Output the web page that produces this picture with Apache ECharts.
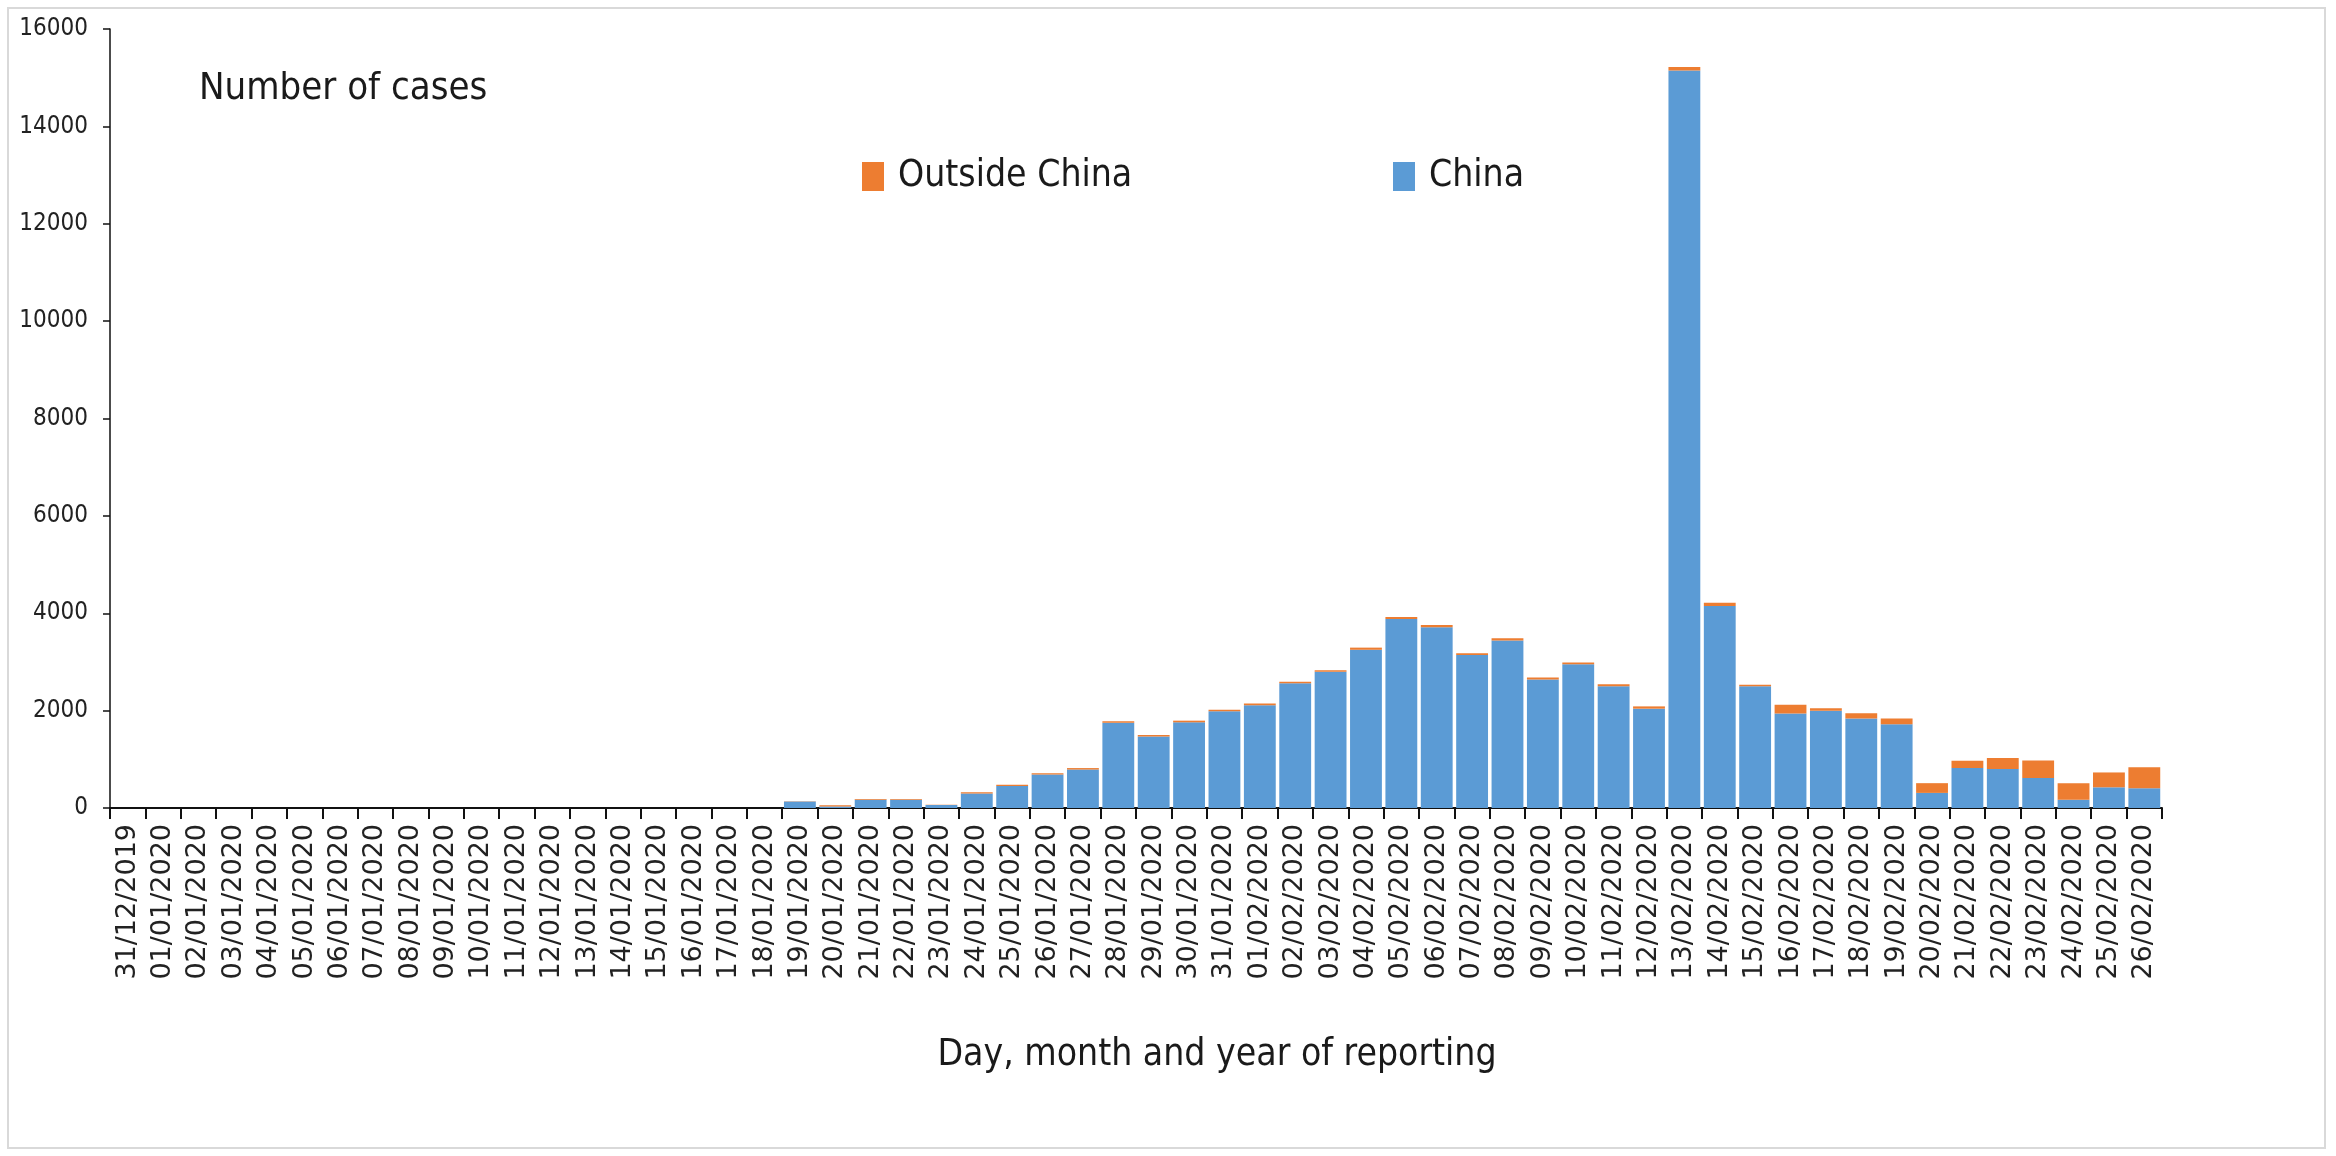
<!DOCTYPE html>
<html><head><meta charset="utf-8">
<script src="https://cdn.jsdelivr.net/npm/echarts@6/dist/echarts.min.js"></script>
<style>html,body{margin:0;padding:0;background:#fff}#c{width:2336px;height:1156px}</style>
</head><body><div id="c"></div>
<script>
const dates = ['31/12/2019','01/01/2020','02/01/2020','03/01/2020','04/01/2020','05/01/2020','06/01/2020','07/01/2020','08/01/2020','09/01/2020','10/01/2020','11/01/2020','12/01/2020','13/01/2020','14/01/2020','15/01/2020','16/01/2020','17/01/2020','18/01/2020','19/01/2020','20/01/2020','21/01/2020','22/01/2020','23/01/2020','24/01/2020','25/01/2020','26/01/2020','27/01/2020','28/01/2020','29/01/2020','30/01/2020','31/01/2020','01/02/2020','02/02/2020','03/02/2020','04/02/2020','05/02/2020','06/02/2020','07/02/2020','08/02/2020','09/02/2020','10/02/2020','11/02/2020','12/02/2020','13/02/2020','14/02/2020','15/02/2020','16/02/2020','17/02/2020','18/02/2020','19/02/2020','20/02/2020','21/02/2020','22/02/2020','23/02/2020','24/02/2020','25/02/2020','26/02/2020'];
const china = [0,0,0,0,0,0,0,0,0,0,0,0,0,0,0,0,0,0,0,135,30,170,170,60,300,450,690,790,1750,1470,1760,1985,2110,2560,2800,3250,3880,3710,3140,3440,2640,2950,2500,2040,15150,4150,2500,1940,1995,1840,1720,310,820,800,614,170,425,405];
const outside = [0,0,0,0,0,0,0,0,0,0,0,0,0,0,0,0,0,0,0,2,25,15,15,8,25,25,25,30,30,30,34,34,38,31,30,44,41,48,38,45,40,37,44,47,70,65,30,180,55,105,120,200,150,225,360,340,305,430];
const yMin = 0, yMax = 16000, yStep = 2000;
const titleText = 'Number of cases';
const xTitleText = 'Day, month and year of reporting';
const NARROW = "'Liberation Sans Narrow','DejaVu Sans Condensed',sans-serif";

const chart = echarts.init(document.getElementById('c'));
chart.setOption({
  animation: false,
  backgroundColor: '#fff',
  grid: {left: 110, right: 174, top: 29, bottom: 348, containLabel: false},
  legend: [
    {data: ['Outside China'], left: 857, top: 153, itemWidth: 22, itemHeight: 29, icon: 'rect',
     textStyle: {fontSize: 37, fontFamily: NARROW, color: '#1a1a1a', padding: [0,0,0,9]}},
    {data: ['China'], left: 1388, top: 153, itemWidth: 22, itemHeight: 29, icon: 'rect',
     textStyle: {fontSize: 37, fontFamily: NARROW, color: '#1a1a1a', padding: [0,0,0,9]}}
  ],
  xAxis: {
    type: 'category', data: dates,
    axisLine: {lineStyle: {color: '#111', width: 2}},
    axisTick: {show: true, length: 11, lineStyle: {color: '#111', width: 2}},
    axisLabel: {rotate: 90, interval: 0, fontSize: 27, fontFamily: 'DejaVu Sans', color: '#222', margin: 16}
  },
  yAxis: {
    type: 'value', min: yMin, max: yMax, interval: yStep,
    axisLine: {show: true, lineStyle: {color: '#111', width: 1.5}},
    axisTick: {show: true, length: 7, lineStyle: {color: '#111', width: 1.5}},
    splitLine: {show: false},
    axisLabel: {fontSize: 24, fontFamily: NARROW, color: '#222', margin: 22, formatter: v => String(v)}
  },
  series: [
    {name: 'China', type: 'bar', stack: 'total', data: china, barCategoryGap: '10%',
     itemStyle: {color: '#5B9BD5'}},
    {name: 'Outside China', type: 'bar', stack: 'total', data: outside, barCategoryGap: '10%',
     itemStyle: {color: '#ED7D31'}}
  ],
  graphic: [
    {type: 'rect', shape: {x: 8, y: 8, width: 2317, height: 1140}, style: {fill: 'none', stroke: '#d9d9d9', lineWidth: 2}, silent: true, z: -1},
    {type: 'text', x: 199, y: 70, style: {text: titleText, font: "38px 'Liberation Sans Narrow','DejaVu Sans Condensed',sans-serif", fill: '#1a1a1a', textVerticalAlign: 'top'}},
    {type: 'text', x: 1217, y: 1037, style: {text: xTitleText, font: "37px 'Liberation Sans Narrow','DejaVu Sans Condensed',sans-serif", fill: '#1a1a1a', textAlign: 'center', textVerticalAlign: 'top'}}
  ]
});
</script></body></html>
